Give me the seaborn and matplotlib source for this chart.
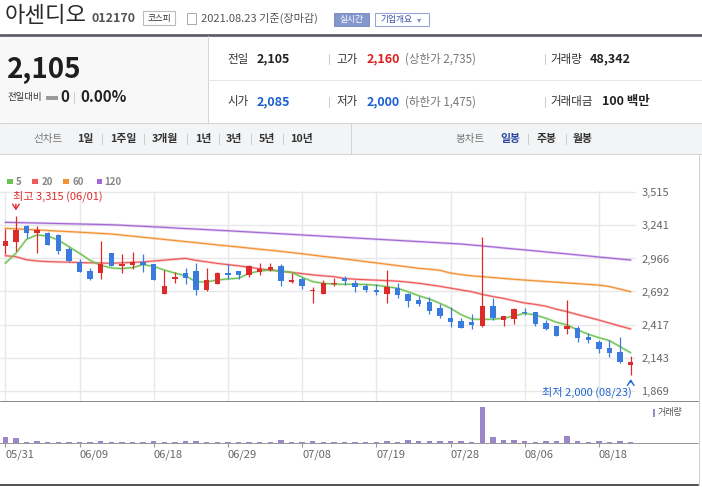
import numpy as np
import pandas as pd
import matplotlib
matplotlib.use("Agg")
import matplotlib.pyplot as plt
import seaborn as sns
from matplotlib.patches import Rectangle
from matplotlib.lines import Line2D

# ---- data (daily candles 2021-05-31 .. 2021-08-23) ----
date_labels = ["05/31", "06/09", "06/18", "06/29", "07/08", "07/19", "07/28", "08/06", "08/18"]
date_tick_idx = [0, 7, 14, 21, 28, 35, 42, 49, 56]

opens = [3072, 3105, 3238, 3180, 3180, 3161, 3042, 2934, 2862, 2848,
         3011, 2906, 2912, 2940, 2920, 2671, 2801, 2846, 2862, 2705,
         2757, 2846, 2862, 2829, 2854, 2870, 2904, 2773, 2796, 2696,
         2674, 2752, 2804, 2763, 2738, 2705, 2674, 2721, 2674, 2622,
         2607, 2552, 2472, 2447, 2436, 2406, 2569, 2458, 2461, 2525,
         2522, 2433, 2406, 2383, 2389, 2317, 2276, 2226, 2193, 2085]
highs = [3211, 3315, 3245, 3238, 3185, 3165, 3059, 2962, 2885, 3111,
         3015, 3003, 3019, 3003, 2924, 2868, 2855, 2890, 2928, 2885,
         2850, 2920, 2866, 2912, 2928, 2928, 2920, 2848, 2815, 2732,
         2786, 2807, 2821, 2787, 2754, 2754, 2868, 2763, 2680, 2655,
         2649, 2588, 2561, 2470, 2503, 3147, 2636, 2490, 2553, 2553,
         2525, 2456, 2408, 2622, 2406, 2350, 2290, 2287, 2317, 2160]
lows = [3003, 3030, 3133, 3009, 3075, 2999, 2940, 2852, 2790, 2793,
        2903, 2843, 2876, 2856, 2785, 2668, 2765, 2754, 2663, 2700,
        2755, 2793, 2793, 2815, 2832, 2862, 2740, 2760, 2715, 2599,
        2672, 2738, 2743, 2690, 2690, 2665, 2599, 2641, 2566, 2574,
        2503, 2475, 2400, 2387, 2383, 2400, 2456, 2408, 2422, 2497,
        2406, 2373, 2325, 2342, 2276, 2265, 2179, 2151, 2096, 2000]
closes = [3111, 3202, 3175, 3202, 3080, 3030, 2945, 2856, 2793, 2920,
          2906, 2914, 2940, 2915, 2787, 2738, 2812, 2807, 2707, 2787,
          2848, 2829, 2829, 2904, 2879, 2893, 2782, 2785, 2740, 2705,
          2760, 2765, 2782, 2732, 2702, 2688, 2729, 2665, 2616, 2591,
          2530, 2491, 2442, 2392, 2414, 2569, 2475, 2486, 2544, 2511,
          2425, 2383, 2325, 2406, 2309, 2290, 2215, 2182, 2105, 2105]
volumes = [215000, 180000, 45000, 75000, 48000, 50000, 47000, 49000, 46000, 80000,
           47000, 45000, 48000, 46000, 78000, 50000, 47000, 82000, 76000, 49000,
           46000, 44000, 47000, 45000, 25000, 48000, 110000, 47000, 45000, 79000,
           50000, 46000, 45000, 47000, 46000, 44000, 80000, 47000, 112000, 77000,
           76000, 79000, 74000, 78000, 50000, 1300000, 215000, 110000, 108000, 76000,
           48000, 74000, 72000, 250000, 75000, 47000, 72000, 46000, 75000, 48342]

ma5 = [2926, 3009, 3125, 3161, 3152, 3119, 3064, 3009, 2950, 2910,
       2887, 2882, 2890, 2915, 2900, 2870, 2845, 2822, 2772, 2772,
       2787, 2796, 2802, 2843, 2862, 2870, 2862, 2851, 2810, 2774,
       2760, 2752, 2752, 2752, 2750, 2744, 2732, 2719, 2690, 2657,
       2630, 2594, 2553, 2500, 2463, 2461, 2462, 2470, 2489, 2511,
       2497, 2470, 2437, 2414, 2373, 2337, 2309, 2284, 2234, 2184]
ma20 = [2989, 2981, 2955, 2945, 2940, 2937, 2935, 2932, 2930, 2928,
        2926, 2930, 2934, 2937, 2945, 2952, 2960, 2967, 2950, 2938,
        2925, 2915, 2905, 2893, 2880, 2870, 2860, 2851, 2840, 2830,
        2822, 2815, 2800, 2794, 2790, 2786, 2782, 2778, 2770, 2760,
        2748, 2735, 2720, 2705, 2690, 2668, 2650, 2635, 2615, 2597,
        2585, 2570, 2545, 2525, 2500, 2478, 2455, 2430, 2405, 2381]
ma60 = [3216, 3212, 3207, 3203, 3198, 3193, 3189, 3184, 3179, 3174,
        3169, 3160, 3151, 3142, 3133, 3124, 3115, 3106, 3097, 3088,
        3078, 3070, 3061, 3052, 3043, 3034, 3025, 3015, 3005, 2994,
        2983, 2973, 2962, 2951, 2940, 2929, 2918, 2907, 2896, 2884,
        2877, 2868, 2845, 2832, 2822, 2815, 2808, 2800, 2793, 2787,
        2781, 2775, 2769, 2763, 2757, 2751, 2745, 2733, 2712, 2690]
ma120 = [3266, 3264, 3262, 3260, 3258, 3256, 3254, 3252, 3250, 3248,
         3246, 3242, 3237, 3233, 3228, 3224, 3219, 3214, 3210, 3205,
         3200, 3196, 3191, 3186, 3181, 3176, 3171, 3166, 3161, 3156,
         3151, 3146, 3141, 3136, 3131, 3126, 3121, 3116, 3111, 3106,
         3101, 3096, 3091, 3086, 3078, 3070, 3062, 3053, 3045, 3037,
         3029, 3020, 3012, 3004, 2995, 2987, 2978, 2970, 2961, 2953]

price_ticks = [3515, 3241, 2966, 2692, 2417, 2143, 1869]

W, H = 702, 487
RED = "#dd2b2b"
BLUE = "#3a7cdd"
MA_COLORS = {"5": "#6cc24e", "20": "#ee5a5a", "60": "#f39030", "120": "#a468d4"}

sns.set_theme(style="white")
plt.rcParams["font.family"] = ["Noto Sans CJK KR", "DejaVu Sans"]

fig = plt.figure(figsize=(W / 100, H / 100), dpi=100)
fig.patch.set_facecolor("white")


def rect(x0, y0, x1, y1, fc, ec="none", lw=0):
    fig.patches.append(Rectangle((x0 / W, 1 - y1 / H), (x1 - x0) / W, (y1 - y0) / H,
                                 transform=fig.transFigure, fc=fc, ec=ec, lw=lw))


def line(x0, y0, x1, y1, color, lw=1.0):
    fig.add_artist(Line2D([x0 / W, x1 / W], [1 - y0 / H, 1 - y1 / H], color=color,
                          lw=lw * 0.72, transform=fig.transFigure))


def txt(x, y, s, size, color="#333333", weight="normal", ha="left"):
    fig.text(x / W, 1 - y / H, s, fontsize=size, color=color, fontweight=weight,
             ha=ha, va="center")


# ---- header ----
txt(5, 16, "아센디오", 16, "#2a2a2a")
txt(92, 18.5, "012170", 9, "#555555", "bold")
rect(143, 11, 175, 25, "white", "#bbbbbb", 0.8)
txt(159, 18, "코스피", 6.2, "#333333", ha="center")
rect(187, 13, 196, 24, "white", "#aaaaaa", 0.7)
txt(201, 18.3, "2021.08.23 기준(장마감)", 8, "#555555")
rect(334, 12.7, 368.5, 26, "#8497cc", "#7b8dc2", 0.7)
txt(351.3, 19.3, "실시간", 6.3, "white", ha="center")
rect(375, 12.7, 428.5, 26, "white", "#97a6d4", 0.8)
txt(380, 19.3, "기업개요", 6.3, "#3f52a6")
txt(417, 19.3, "▾", 6, "#7f8fc4")
line(0, 34.7, W, 34.7, "#5b5e64", 2.7)

# ---- price summary ----
rect(0, 36, 208, 123.3, "#f8f8f8")
line(208, 36, 208, 123.3, "#d6d6d6")
txt(7, 70, "2,105", 20, "#1e1e1e", "bold")
txt(7, 97.5, "전일대비", 6.8, "#333333")
rect(46, 96.5, 58, 99.5, "#9a9a9a")
txt(60, 97.5, "0", 11, "#222222", "bold")
line(74, 92, 74, 103, "#cccccc")
txt(80, 97.5, "0.00%", 11, "#222222", "bold")

line(208, 80, W, 80, "#e6e6e6")
for yy, items in [(59.3, [(227.4, "전일", "#333333", "normal"), (256.5, "2,105", "#222222", "bold"),
                          (336.7, "고가", "#333333", "normal"), (367, "2,160", "#e0201c", "bold"),
                          (405, "(상한가 2,735)", "#777777", "normal"),
                          (550.7, "거래량", "#333333", "normal"), (590, "48,342", "#222222", "bold")]),
                  (101.7, [(227.4, "시가", "#333333", "normal"), (256.5, "2,085", "#1a5fd0", "bold"),
                           (336.7, "저가", "#333333", "normal"), (367, "2,000", "#1a5fd0", "bold"),
                           (405, "(하한가 1,475)", "#777777", "normal"),
                           (550.7, "거래대금", "#333333", "normal"), (602, "100 백만", "#222222", "bold")])]:
    for x, s, c, w in items:
        txt(x, yy, s, 8.3 if w == "normal" else 9, c, w)
    line(329, yy - 5, 329, yy + 5, "#cccccc")
    line(545, yy - 5, 545, yy + 5, "#cccccc")

# ---- period tabs ----
rect(0, 123.3, W, 154, "#f3f4f6")
line(0, 123.3, W, 123.3, "#d3d3d3")
line(0, 154, W, 154, "#d3d3d3")
line(350.6, 123.3, 350.6, 154, "#d3d3d3")
txt(33.6, 139, "선차트", 7.6, "#777777")
for x, s in [(77, "1일"), (109.7, "1주일"), (152, "3개월"), (194.8, "1년"),
             (226, "3년"), (258.8, "5년"), (290, "10년")]:
    txt(x, 139, s, 7.8, "#333333", "bold")
for x in [102, 144, 187, 219, 250.7, 283]:
    line(x, 134, x, 144, "#cccccc")
txt(455.8, 139, "봉차트", 7.6, "#777777")
txt(500.5, 139, "일봉", 7.8, "#2a4aa0", "bold")
txt(536.4, 139, "주봉", 7.8, "#333333", "bold")
txt(573, 139, "월봉", 7.8, "#333333", "bold")
line(528, 134, 528, 144, "#cccccc")
line(565.5, 134, 565.5, 144, "#cccccc")

# ---- MA legend ----
for x0, x1, label, key in [(7.3, 16, "5", "5"), (32.3, 41.7, "20", "20"),
                           (63.3, 72.7, "60", "60"), (96.7, 104.3, "120", "120")]:
    rect(x0, 179, x0 + 5.5, 184.5, MA_COLORS[key])
    txt(x1, 181.8, label, 7, "#888888", "bold")

# ---- price panel ----
top_px, bot_px = 191.3, 400.5
ppx = (3515 - 1869) / (390.7 - 192.3)
ax = fig.add_axes([0, 1 - bot_px / H, 636 / W, (bot_px - top_px) / H])
ax.set_facecolor("none")
ax.set_xlim(-0.5, 59.5)
ax.set_ylim(3515 - (bot_px - 192.3) * ppx, 3515 + (192.3 - top_px) * ppx)

idx = np.arange(len(closes))
df = pd.DataFrame({"i": idx, "o": opens, "h": highs, "l": lows, "c": closes})
colors = np.where(df.c >= df.o, RED, BLUE)

for key, ma in [("120", ma120), ("60", ma60), ("20", ma20), ("5", ma5)]:
    sns.lineplot(x=idx, y=ma, ax=ax, color=MA_COLORS[key], lw=1.9, alpha=0.3, zorder=2, legend=False)
    sns.lineplot(x=idx, y=ma, ax=ax, color=MA_COLORS[key], lw=0.85, zorder=2, legend=False)

ax.vlines(df.i, df.l, df.h, colors=colors, lw=0.9, zorder=3)
diff = (df.c - df.o).abs()
body_h = np.maximum(diff, 14)
body_bot = np.minimum(df.o, df.c) - (body_h - diff) / 2
ax.bar(df.i, body_h, bottom=body_bot, width=0.5, color=colors, lw=0, zorder=4)

ax.set_yticks(price_ticks)
ax.set_yticklabels([f"{v:,}" for v in price_ticks])
ax.set_xticks(date_tick_idx)
ax.grid(True, color="#e8e8e8", lw=1.0)
ax.yaxis.tick_right()
ax.tick_params(axis="y", length=0, pad=3.8, labelsize=8, labelcolor="#666666", right=False)
ax.tick_params(axis="x", length=0, labelbottom=False)
for s in ax.spines.values():
    s.set_visible(False)

# high / low markers
txt(13.3, 196.7, "최고 3,315 (06/01)", 8, RED)
ax.annotate("", xy=(1, 3342), xytext=(1, 3440),
            arrowprops=dict(arrowstyle="->,head_width=0.2,head_length=0.3", color=RED, lw=1))
txt(541.7, 392.5, "최저 2,000 (08/23)", 8, "#1f64d0")
ax.annotate("", xy=(59, 1988), xytext=(59, 1914),
            arrowprops=dict(arrowstyle="->,head_width=0.2,head_length=0.3", color="#1f64d0", lw=1))

# ---- volume panel ----
vtop, vbot = 400.5, 443
vmax = 1300000 * (vbot - vtop) / 36.3
axv = fig.add_axes([0, 1 - vbot / H, 636 / W, (vbot - vtop) / H])
axv.set_facecolor("none")
axv.bar(idx, volumes, width=0.5, color="#9b87c8", lw=0)
axv.set_xlim(-0.5, 59.5)
axv.set_ylim(0, vmax)
axv.set_yticks([])
axv.set_xticks(date_tick_idx)
axv.set_xticklabels(date_labels, ha="left")
axv.tick_params(axis="x", bottom=True, length=3, width=0.8, color="#999999",
                pad=2, labelsize=8, labelcolor="#666666")
for s in axv.spines.values():
    s.set_visible(False)

line(0, vtop, 698, vtop, "#8a8a8a")
line(0, vbot, 698, vbot, "#9a9a9a")
line(0, 485, 698, 485, "#555555", 2)
line(699, 155, 699, 485, "#d0d0d0")
rect(652.7, 409.3, 655.3, 416.7, "#9b87c8")
txt(658, 412.7, "거래량", 6.5, "#555555")

fig.savefig("out.png", dpi=100)
